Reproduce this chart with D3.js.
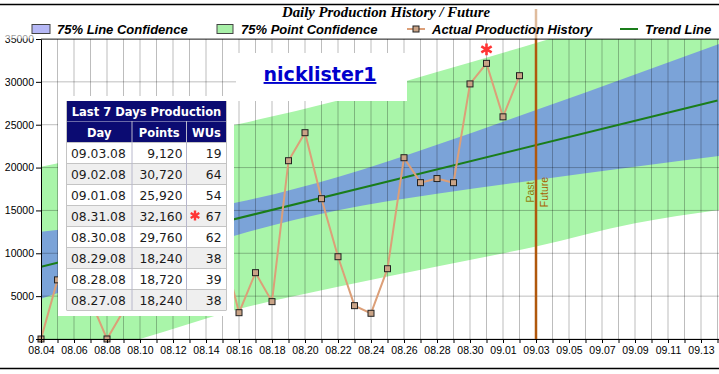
<!DOCTYPE html>
<html>
<head>
<meta charset="utf-8">
<script src="https://cdn.jsdelivr.net/npm/d3@7"></script>
<style>
  body { margin: 0; background: #fff; }
  svg { display: block; }
  .axis text { font-family: 'Liberation Sans', Arial, sans-serif; fill: #000; }
  .axis path, .axis line { stroke: #000; }
  .legend-label { font-family: 'Liberation Sans', Arial, sans-serif; font-weight: bold; font-style: italic; font-size: 13px; }
  .chart-title { font-family: 'Liberation Serif', 'Times New Roman', serif; font-weight: bold; font-style: italic; font-size: 14.8px; }
  .table-text { font-family: 'DejaVu Sans', Verdana, sans-serif; font-size: 12.3px; fill: #1a1a1a; }
  .table-head { font-family: 'DejaVu Sans', Verdana, sans-serif; font-size: 11.5px; font-weight: bold; fill: #fff; }
</style>
</head>
<body>
<svg id="chart"></svg>
<script>
// ---- Data ----
const historyDays = ['08.04', '08.05', '08.06', '08.07', '08.08', '08.09', '08.10', '08.11', '08.12', '08.13',
  '08.14', '08.15', '08.16', '08.17', '08.18', '08.19', '08.20', '08.21', '08.22', '08.23',
  '08.24', '08.25', '08.26', '08.27', '08.28', '08.29', '08.30', '08.31', '09.01', '09.02'];
// 08.06-08.14 sit behind the table panel (estimates)
const historyPoints = [0, 6900, 8000, 4500, 0, 3300, 9000, 12000, 15000, 10000,
  13000, 10800, 3070, 7740, 4360, 20800, 24070, 16370, 9600, 3890,
  3000, 8200, 21150, 18240, 18720, 18240, 29760, 32160, 25920, 30720];

const trendDays = ['08.04', '09.14'];
const trendPoints = [8430, 27830];

const bandDays = ['08.04', '08.10', '08.16', '08.22', '08.28', '09.03', '09.09', '09.15'];
const lineConfUpper = [12500, 13950, 15970, 18910, 22660, 26710, 30870, 35050];
const lineConfLower = [4700, 8610, 12200, 15020, 16940, 18560, 20090, 21560];
const pointConfUpper = [20100, 22530, 25080, 27830, 31150, 34530, 38000, 41700];
const pointConfLower = [-3240, 0, 3500, 6090, 8450, 10800, 13500, 15300];

const splitDay = '09.03';
const bestDay = '08.31';

const xTickLabels = ['08.04', '08.06', '08.08', '08.10', '08.12', '08.14', '08.16', '08.18', '08.20', '08.22',
  '08.24', '08.26', '08.28', '08.30', '09.01', '09.03', '09.05', '09.07', '09.09', '09.11', '09.13'];
const yTicks = [0, 5000, 10000, 15000, 20000, 25000, 30000, 35000];

const legendLabels = ['75% Line Confidence', '75% Point Confidence', 'Actual Production History', 'Trend Line'];

const tableTitle = 'Last 7 Days Production';
const tableColumns = ['Day', 'Points', 'WUs'];
const tableDays = ['09.03.08', '09.02.08', '09.01.08', '08.31.08', '08.30.08', '08.29.08', '08.28.08', '08.27.08'];
const tablePoints = [9120, 30720, 25920, 32160, 29760, 18240, 18720, 18240];
const tableWUs = [19, 64, 54, 67, 62, 38, 39, 38];

const userName = 'nicklister1';

const parseDay = d3.timeParse('%Y.%m.%d');
const toDate = s => parseDay('2008.' + s);

class ProductionChart {
  constructor(_config) {
    this.config = {
      parentElement: _config.parentElement,
      containerWidth: _config.containerWidth || 719,
      containerHeight: _config.containerHeight || 374,
      margin: {top: 39, right: 1.5, bottom: 35, left: 41},
      colors: {
        lineConf: '#7ba3d8', lineConfKey: '#b6b8f6',
        pointConf: '#a9f5a9', pointConfKey: '#a8f0a8',
        history: '#dc9f78', marker: '#c9a386',
        trend: '#1a7d1a', split: '#b0580c', star: '#ff3535'
      }
    };
    this.initVis();
  }

  initVis() {
    let vis = this;
    vis.width = vis.config.containerWidth - vis.config.margin.left - vis.config.margin.right;
    vis.height = vis.config.containerHeight - vis.config.margin.top - vis.config.margin.bottom;

    vis.xScale = d3.scaleTime()
        .domain([toDate('08.04'), toDate('09.14')])
        .range([0, vis.width]);
    vis.yScale = d3.scaleLinear()
        .domain([0, 35000])
        .range([vis.height, 0]);

    vis.svg = d3.select(vis.config.parentElement)
        .attr('width', vis.config.containerWidth)
        .attr('height', vis.config.containerHeight);

    vis.chart = vis.svg.append('g')
        .attr('transform', `translate(${vis.config.margin.left},${vis.config.margin.top})`);

    vis.chart.append('defs').append('clipPath')
        .attr('id', 'plot-clip')
      .append('rect')
        .attr('width', vis.config.containerWidth - vis.config.margin.left)
        .attr('height', vis.height);

    vis.plot = vis.chart.append('g').attr('clip-path', 'url(#plot-clip)');
    vis.renderVis();
  }

  renderVis() {
    let vis = this;
    const c = vis.config.colors;
    const x = vis.xScale, y = vis.yScale;

    // Confidence bands
    const bandRows = bandDays.map((d, i) => ({
      date: toDate(d),
      pu: pointConfUpper[i], pl: pointConfLower[i],
      lu: lineConfUpper[i], ll: lineConfLower[i]
    }));
    const area = (hi, lo) => d3.area()
        .curve(d3.curveMonotoneX)
        .x(d => x(d.date))
        .y0(d => y(d[lo]))
        .y1(d => y(d[hi]));

    vis.plot.append('path')
        .datum(bandRows)
        .attr('fill', c.pointConf)
        .attr('d', area('pu', 'pl'));
    vis.plot.append('path')
        .datum(bandRows)
        .attr('fill', c.lineConf)
        .attr('d', area('lu', 'll'));

    // Grid
    const allDays = d3.timeDay.range(toDate('08.04'), d3.timeDay.offset(toDate('09.14'), 1));
    vis.plot.append('g').selectAll('line')
        .data(allDays)
      .join('line')
        .attr('x1', d => x(d)).attr('x2', d => x(d))
        .attr('y1', 0).attr('y2', vis.height)
        .attr('stroke', 'rgba(0,0,0,0.26)');
    vis.plot.append('g').selectAll('line')
        .data(yTicks)
      .join('line')
        .attr('x1', 0).attr('x2', vis.config.containerWidth)
        .attr('y1', d => y(d)).attr('y2', d => y(d))
        .attr('stroke', 'rgba(0,0,0,0.26)');

    // Trend line
    vis.plot.append('path')
        .datum(trendDays.map((d, i) => ({date: toDate(d), v: trendPoints[i]})))
        .attr('fill', 'none')
        .attr('stroke', c.trend)
        .attr('stroke-width', 2)
        .attr('d', d3.line().x(d => x(d.date)).y(d => y(d.v)));

    // Production history
    const history = historyDays.map((d, i) => ({day: d, date: toDate(d), v: historyPoints[i]}));
    vis.plot.append('path')
        .datum(history)
        .attr('fill', 'none')
        .attr('stroke', c.history)
        .attr('stroke-width', 2)
        .attr('d', d3.line().x(d => x(d.date)).y(d => y(d.v)));
    vis.chart.append('g').selectAll('rect')
        .data(history)
      .join('rect')
        .attr('x', d => x(d.date) - 3)
        .attr('y', d => y(d.v) - 3)
        .attr('width', 6).attr('height', 6)
        .attr('fill', c.marker)
        .attr('stroke', '#222')
        .attr('stroke-width', 1);

    const best = history.find(d => d.day === bestDay);
    vis.chart.append('path')
        .attr('transform', `translate(${x(best.date)},${y(best.v) - 14})`)
        .attr('d', d3.symbol(d3.symbolAsterisk, 100)())
        .attr('stroke', c.star)
        .attr('stroke-width', 2.6)
        .attr('fill', 'none');

    // Past / Future split
    const sx = x(toDate(splitDay));
    vis.chart.append('line')
        .attr('x1', sx).attr('x2', sx)
        .attr('y1', -30).attr('y2', vis.height)
        .attr('stroke', c.split)
        .attr('stroke-width', 2.5);
    vis.chart.append('text')
        .attr('transform', `translate(${sx - 2.5},${153}) rotate(-90)`)
        .attr('text-anchor', 'middle')
        .attr('font-family', 'Liberation Sans, Arial, sans-serif')
        .attr('font-size', 10.5)
        .attr('fill', '#8f7d0c')
        .text('Past');
    vis.chart.append('text')
        .attr('transform', `translate(${sx + 12},${153}) rotate(-90)`)
        .attr('text-anchor', 'middle')
        .attr('font-family', 'Liberation Sans, Arial, sans-serif')
        .attr('font-size', 10.5)
        .attr('fill', '#a85f00')
        .text('Future');

    // Name box
    vis.svg.append('rect')
        .attr('x', 236).attr('y', 53)
        .attr('width', 171).attr('height', 48)
        .attr('fill', '#fff');
    vis.svg.append('text')
        .attr('x', 320).attr('y', 81)
        .attr('text-anchor', 'middle')
        .attr('font-family', 'DejaVu Sans, Verdana, sans-serif')
        .attr('font-weight', 'bold')
        .attr('font-size', 19)
        .attr('fill', '#0000cc')
        .attr('text-decoration', 'underline')
        .text(userName);

    // Axes
    const yAxis = d3.axisLeft(y)
        .tickValues(yTicks)
        .tickFormat(d3.format('d'))
        .tickSize(5)
        .tickSizeOuter(0)
        .tickPadding(2);
    const yAxisG = vis.chart.append('g').attr('class', 'axis y-axis').call(yAxis);
    yAxisG.selectAll('text').attr('font-size', 10.5);

    const xAxis = d3.axisBottom(x)
        .tickValues(allDays)
        .tickSize(4)
        .tickSizeOuter(0)
        .tickPadding(4)
        .tickFormat(d => {
          const lbl = d3.timeFormat('%m.%d')(d);
          return xTickLabels.includes(lbl) ? lbl : '';
        });
    const xAxisG = vis.chart.append('g')
        .attr('class', 'axis x-axis')
        .attr('transform', `translate(0,${vis.height})`)
        .call(xAxis);
    xAxisG.selectAll('text').attr('font-size', 10.5);
    xAxisG.select('.domain').attr('d', `M0,0.5H${vis.config.containerWidth}`);

    vis.chart.append('line')
        .attr('x1', 0).attr('x2', vis.config.containerWidth)
        .attr('y1', 0).attr('y2', 0)
        .attr('stroke', '#000');

    vis.renderTable();
    vis.renderHeader();
  }

  renderTable() {
    let vis = this;
    const cols = [66.5, 132, 186.5, 226.5];
    const top = 101, titleH = 20, headH = 21, rowH = 21;
    const g = vis.svg.append('g');

    g.append('rect')
        .attr('x', 58).attr('y', 96)
        .attr('width', 176).attr('height', 220)
        .attr('fill', '#fff');

    g.append('rect')
        .attr('x', cols[0]).attr('y', top)
        .attr('width', cols[3] - cols[0]).attr('height', titleH + headH)
        .attr('fill', '#0b0b72');
    g.append('text')
        .attr('class', 'table-head')
        .attr('x', (cols[0] + cols[3]) / 2).attr('y', top + 14.7)
        .attr('text-anchor', 'middle')
        .text(tableTitle);
    g.append('line')
        .attr('x1', cols[0]).attr('x2', cols[3])
        .attr('y1', top + titleH + 0.5).attr('y2', top + titleH + 0.5)
        .attr('stroke', '#6a6aa8');
    g.selectAll('.col-head')
        .data(tableColumns)
      .join('text')
        .attr('class', 'table-head')
        .attr('x', (d, i) => (cols[i] + cols[i + 1]) / 2)
        .attr('y', top + titleH + 15.7)
        .attr('text-anchor', 'middle')
        .text(d => d);

    const bodyTop = top + titleH + headH;
    const rows = g.selectAll('.row')
        .data(tableDays.map((d, i) => ({day: d, pts: tablePoints[i], wus: tableWUs[i], i})))
      .join('g')
        .attr('transform', d => `translate(0,${bodyTop + d.i * rowH})`);
    rows.append('rect')
        .attr('x', cols[0]).attr('width', cols[3] - cols[0])
        .attr('height', rowH)
        .attr('fill', d => d.i % 2 ? '#efefef' : '#fff');
    rows.append('text')
        .attr('class', 'table-text')
        .attr('x', cols[0] + 4.5).attr('y', 16)
        .text(d => d.day);
    rows.append('text')
        .attr('class', 'table-text')
        .attr('x', cols[2] - 4).attr('y', 16)
        .attr('text-anchor', 'end')
        .text(d => d3.format(',')(d.pts));
    rows.append('text')
        .attr('class', 'table-text')
        .attr('x', cols[3] - 5).attr('y', 16)
        .attr('text-anchor', 'end')
        .text(d => d.wus);

    // best day marker in the table
    const bestIdx = tableDays.findIndex(d => d.startsWith(bestDay));
    g.append('path')
        .attr('transform', `translate(${cols[2] + 8.5},${bodyTop + bestIdx * rowH + 10.5})`)
        .attr('d', d3.symbol(d3.symbolAsterisk, 70)())
        .attr('stroke', vis.config.colors.star)
        .attr('stroke-width', 2.4)
        .attr('fill', 'none');

    // cell borders
    const bodyBottom = bodyTop + tableDays.length * rowH;
    g.selectAll('.hline')
        .data(d3.range(tableDays.length + 1))
      .join('line')
        .attr('x1', cols[0]).attr('x2', cols[3])
        .attr('y1', i => bodyTop + i * rowH + 0.5).attr('y2', i => bodyTop + i * rowH + 0.5)
        .attr('stroke', '#c4c4c4');
    g.selectAll('.vline')
        .data(cols)
      .join('line')
        .attr('x1', d => d).attr('x2', d => d)
        .attr('y1', (d, i) => (i === 0 || i === 3) ? top : top + titleH)
        .attr('y2', bodyBottom)
        .attr('stroke', (d, i) => (i === 0 || i === 3) ? '#c4c4c4' : '#b8b8cc');
  }

  renderHeader() {
    let vis = this;
    const c = vis.config.colors;

    // faded strip behind title and legend
    vis.svg.append('rect')
        .attr('x', 0).attr('y', 6)
        .attr('width', vis.config.containerWidth).attr('height', 32.5)
        .attr('fill', '#fff')
        .attr('opacity', 0.6);

    vis.svg.append('line')
        .attr('x1', 0).attr('x2', vis.config.containerWidth)
        .attr('y1', 4.5).attr('y2', 4.5)
        .attr('stroke', '#000').attr('stroke-width', 1.5);
    vis.svg.append('line')
        .attr('x1', 0).attr('x2', vis.config.containerWidth)
        .attr('y1', 368.5).attr('y2', 368.5)
        .attr('stroke', '#000').attr('stroke-width', 1.5);

    vis.svg.append('text')
        .attr('class', 'chart-title')
        .attr('x', 386).attr('y', 17)
        .attr('text-anchor', 'middle')
        .text('Daily Production History / Future');

    const keyX = [32, 217, 407, 620];
    const textX = [57, 241, 432, 645];
    const ky = 29;

    vis.svg.append('rect')
        .attr('x', keyX[0]).attr('y', ky - 4.5).attr('width', 18).attr('height', 9)
        .attr('fill', c.lineConfKey).attr('stroke', '#444');
    vis.svg.append('rect')
        .attr('x', keyX[1]).attr('y', ky - 4.5).attr('width', 16).attr('height', 9)
        .attr('fill', c.pointConfKey).attr('stroke', '#444');
    vis.svg.append('line')
        .attr('x1', keyX[2]).attr('x2', keyX[2] + 18)
        .attr('y1', ky).attr('y2', ky)
        .attr('stroke', c.history).attr('stroke-width', 2);
    vis.svg.append('rect')
        .attr('x', keyX[2] + 6).attr('y', ky - 3).attr('width', 6).attr('height', 6)
        .attr('fill', c.marker).attr('stroke', '#222');
    vis.svg.append('line')
        .attr('x1', keyX[3]).attr('x2', keyX[3] + 18)
        .attr('y1', ky).attr('y2', ky)
        .attr('stroke', c.trend).attr('stroke-width', 2);

    vis.svg.selectAll('.legend-label')
        .data(legendLabels)
      .join('text')
        .attr('class', 'legend-label')
        .attr('x', (d, i) => textX[i])
        .attr('y', 33.5)
        .text(d => d);
  }
}

new ProductionChart({parentElement: '#chart'});
</script>
</body>
</html>
